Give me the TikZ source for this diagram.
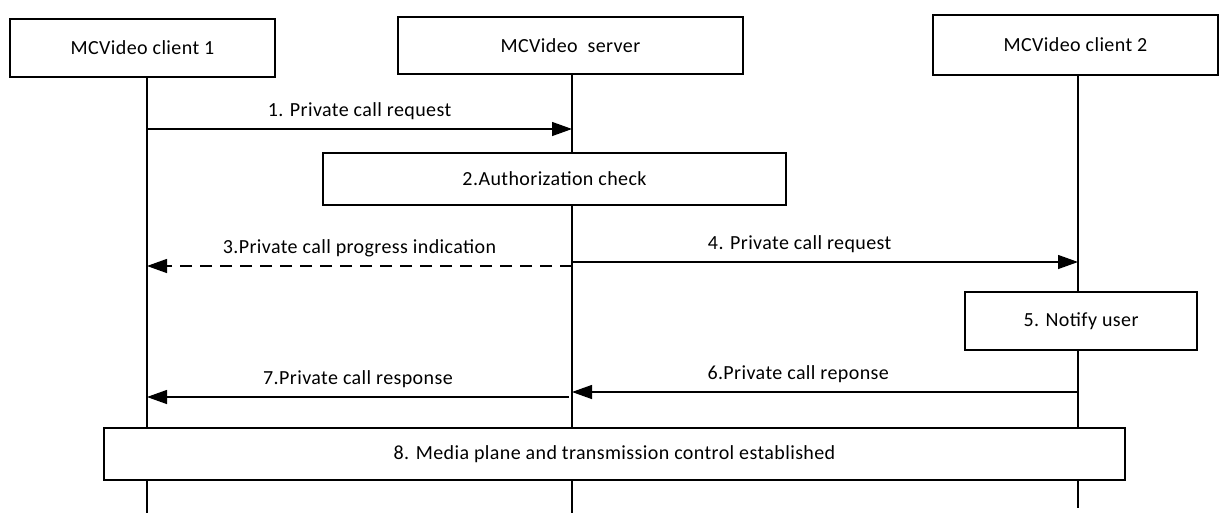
\documentclass[tikz,border=0pt]{standalone}
\usepackage{fontspec}
\setmainfont{Carlito}[LetterSpace=2]
\usetikzlibrary{arrows.meta}
\begin{document}
\begin{tikzpicture}[x=1pt, y=-1pt, font=\fontsize{20}{24}\selectfont,
    box/.style={draw=black, line width=1.3pt, fill=white, inner sep=0pt},
    msg/.style={line width=1.3pt, -{Triangle[length=20pt, width=14pt]}},
    lbl/.style={above=5pt}]
\useasboundingbox (0,0) rectangle (1220,514);

% entities
\node[box, minimum width=265pt, minimum height=58pt] (c1) at (142.5, 48) {MCVideo client 1};
\node[box, minimum width=345pt, minimum height=57pt] (srv) at (570.5, 45.5) {MCVideo\ \ server};
\node[box, minimum width=285pt, minimum height=60pt] (c2) at (1075.5, 45) {MCVideo client 2};

% lifelines
\coordinate (end1) at (147, 513);
\coordinate (end2) at (572, 513);
\coordinate (end3) at (1078, 508);
\draw [line width=1.3pt] (end1 |- c1.south) -- (end1);
\draw [line width=1.3pt] (end2 |- srv.south) -- (end2);
\draw [line width=1.3pt] (end3 |- c2.south) -- (end3);

% 1
\coordinate (a1) at (147, 129);
\coordinate (b1) at (572, 129);
\draw [msg] (a1) -- node[lbl] {1. Private call request} (b1);

% 2
\node[box, minimum width=463pt, minimum height=52pt] (auth) at (554.5, 179) {2.Authorization check};

% 3 and 4
\coordinate (a3) at (572, 266);
\coordinate (b3) at (147, 266);
\draw [msg, dash pattern=on 12pt off 8pt] (a3) -- node[lbl] {3.Private call progress indication} (b3);
\coordinate (a4) at (572, 262);
\coordinate (b4) at (1078, 262);
\draw [msg] (a4) -- node[lbl, pos=0.45] {4. Private call request} (b4);

% 5
\node[box, minimum width=232pt, minimum height=58pt] (notify) at (1081, 321) {5. Notify user};

% 6 and 7
\coordinate (a6) at (1078, 392);
\coordinate (b6) at (572, 392);
\draw [msg] (a6) -- node[lbl, pos=0.553] {6.Private call reponse} (b6);
\coordinate (a7) at (569, 397);
\coordinate (b7) at (147, 397);
\draw [msg] (a7) -- node[lbl] {7.Private call response} (b7);

% 8
\node[box, minimum width=1021pt, minimum height=52pt] (media) at (614.5, 454) {8. Media plane and transmission control established};
\end{tikzpicture}
\end{document}
